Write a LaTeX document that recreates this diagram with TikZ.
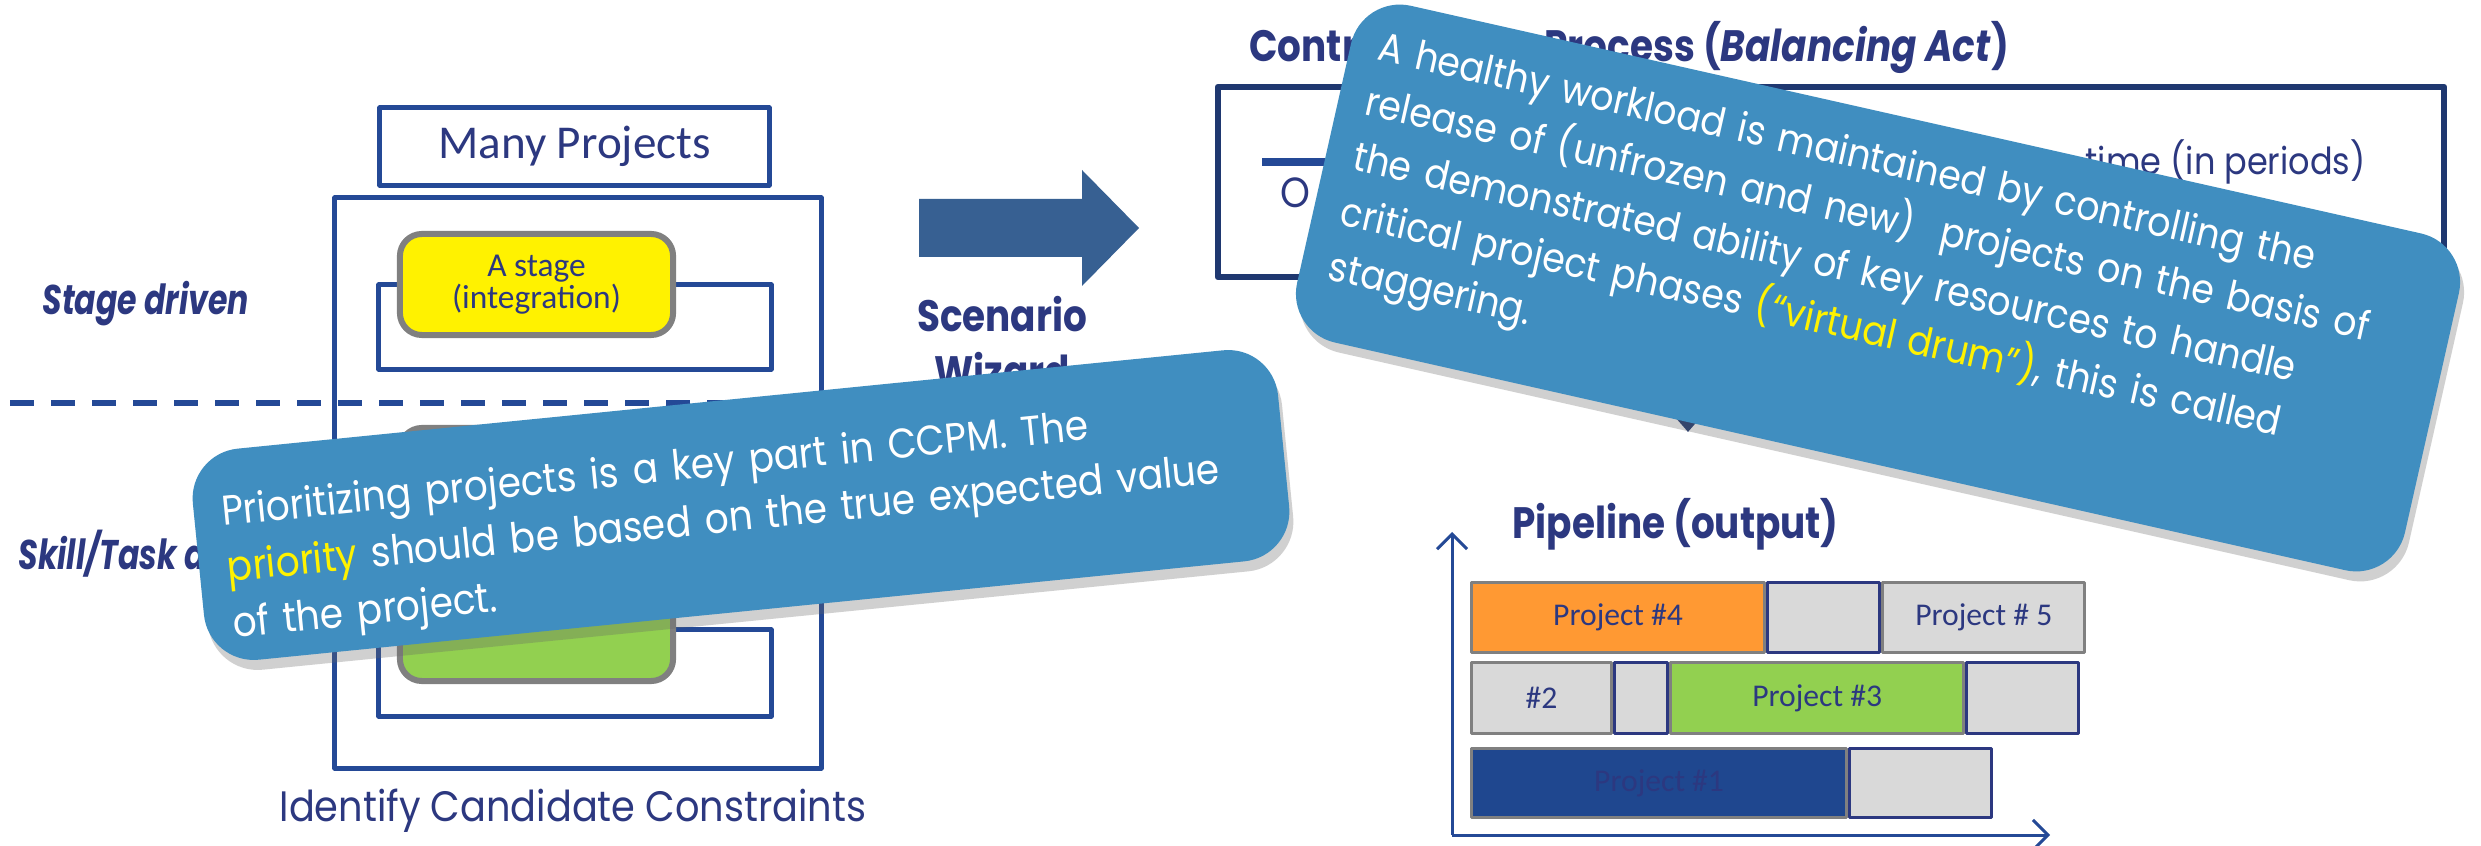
\documentclass[tikz,border=0pt]{standalone}
\usepackage{fontspec}
\setmainfont{Carlito}
\newfontfamily\gothfont[FakeStretch=0.9]{Poppins}
\newfontfamily\gothcond[FakeStretch=0.85]{Poppins}
\newfontfamily\gothcondi[FakeStretch=0.76]{Poppins}
\usetikzlibrary{shadows,arrows.meta}
\definecolor{boxblue}{RGB}{36,73,150}
\definecolor{navy}{RGB}{44,56,128}
\definecolor{ctrlnavy}{RGB}{31,56,112}
\definecolor{arrowblue}{RGB}{55,96,146}
\definecolor{calloutblue}{RGB}{64,142,192}
\definecolor{stagegray}{RGB}{128,128,128}
\definecolor{barorange}{RGB}{255,153,51}
\definecolor{bargreen}{RGB}{146,208,80}
\definecolor{bargray}{RGB}{217,217,217}
\definecolor{barblue}{RGB}{31,71,143}
\begin{document}
\begin{tikzpicture}[x=0.01cm, y=-0.01cm, line join=round, >=stealth]
	\tikzset{bluebox/.style={draw=boxblue, line width=0.05cm, inner sep=0pt},
		stagebox/.style={draw=stagegray, line width=0.06cm, rounded corners=0.22cm, minimum width=2.73cm, minimum height=1.01cm, text=navy, align=center, inner sep=0pt, font=\fontsize{9.5}{9.1}\selectfont},
		bar/.style={draw=stagegray, line width=0.03cm, anchor=west, text=navy, inner sep=0pt, font=\fontsize{9}{10}\selectfont},
		gapbar/.style={bar, draw=navy, fill=bargray},
		callout/.style={fill=calloutblue, rounded corners=0.5cm, text=white, align=left, inner ysep=0pt, font=\gothfont\fontsize{11.85}{16}\selectfont, drop shadow={shadow xshift=0.04cm, shadow yshift=-0.1cm, opacity=0.3, fill=black!60}},
		heading/.style={text=navy, font=\gothcond\bfseries\fontsize{12.5}{16.2}\selectfont},
		sidelabel/.style={text=navy, anchor=base west, font=\gothcondi\bfseries\itshape\fontsize{11.8}{16}\selectfont},
		plain/.style={text=navy, font=\gothfont\fontsize{12.1}{14}\selectfont}}
	\useasboundingbox (0,0) rectangle (2481,846);
	\fill[white] (0,0) rectangle (2481,846);
	\node[bluebox, minimum width=3.89cm, minimum height=0.77cm, text=navy, font=\fontsize{13.4}{15}\selectfont] (many) at (574.5,146.5) {Many Projects};
	\node[bluebox, minimum width=4.86cm, minimum height=5.70cm] (outer) at (578,483) {};
	\node[bluebox, minimum width=3.92cm, minimum height=0.84cm] (row1) at (575,327) {};
	\node[bluebox, minimum width=3.92cm, minimum height=0.84cm] (row2) at (575,521) {};
	\node[bluebox, minimum width=3.92cm, minimum height=0.86cm] (row3) at (575,673) {};
	\node[stagebox, fill=yellow] (stage1) at (536.5,284.5) {A stage\\(integration)};
	\node[stagebox, fill=barorange] (stage2) at (536.5,478.5) {};
	\node[stagebox, fill=bargreen] (stage3) at (536.5,630.5) {};
	\draw[boxblue, line width=0.06cm, dash pattern=on 0.24cm off 0.17cm] (10,403) -- (900,403);
	\node[sidelabel] (stagedrv) at (30,315) {Stage driven};
	\node[sidelabel] (skilldrv) at (6,570) {Skill/Task driven};
	\node[plain, anchor=base] (identify) at (573,821) {Identify Candidate Constraints};
	\fill[arrowblue] (919,199) -- (1082,199) -- (1082,170) -- (1139,228) -- (1082,286) -- (1082,257) -- (919,257) -- cycle;
	\node[heading, align=center, anchor=base] (wizard) at (1002,388) {Scenario\\Wizard};
	\node[heading, anchor=base west] (ctrltitle) at (1237,62) {Controlling the Process (\textit{Balancing Act})};
	\node[draw=ctrlnavy, line width=0.06cm, minimum width=12.26cm, minimum height=1.9cm] (ctrl) at (1831,182) {};
	\draw[boxblue, line width=0.08cm] (1262,162) -- (1420,162);
	\node[plain, anchor=base west, font=\gothfont\fontsize{12}{14}\selectfont] (onode) at (1268,208) {O};
	\node[plain, anchor=base east, font=\gothfont\fontsize{10.6}{14}\selectfont] (periods) at (2378,175) {time (in periods)};
	\coordinate (drumtip) at (1688,432);
	\draw[-{Triangle[length=0.25cm,width=0.42cm]}, line width=0.1cm, ctrlnavy] (ctrl.south -| drumtip) -- (drumtip);
	\node[heading, anchor=base west] (pipetitle) at (1500,538) {Pipeline (output)};
	\coordinate (origin) at (1452,835);
	\coordinate (ytop) at (1452,532);
	\coordinate (xend) at (2050,835);
	\draw[boxblue, line width=0.03cm, -{Straight Barb[length=0.15cm,width=0.3cm]}] (origin) -- (ytop);
	\draw[boxblue, line width=0.03cm, -{Straight Barb[length=0.15cm,width=0.3cm]}] (origin) -- (xend);
	\node[bar, fill=barorange, minimum width=2.93cm, minimum height=0.69cm] (p4) at (1470,617.5) {Project \#4};
	\node[gapbar, minimum width=1.12cm, minimum height=0.69cm] (gap4) at (p4.east) {};
	\node[bar, fill=bargray, minimum width=2.02cm, minimum height=0.69cm] (p5) at (gap4.east) {Project \# 5};
	\node[bar, fill=bargray, minimum width=1.40cm, minimum height=0.70cm] (p2) at (1470,698) {\#2};
	\node[gapbar, minimum width=0.53cm, minimum height=0.70cm] (gap2) at (p2.east) {};
	\node[bar, fill=bargreen, minimum width=2.93cm, minimum height=0.70cm] (p3) at (gap2.east) {Project \#3};
	\node[gapbar, minimum width=1.12cm, minimum height=0.70cm] (gap3) at (p3.east) {};
	\node[bar, fill=barblue, minimum width=3.75cm, minimum height=0.68cm] (p1) at (1470,783) {Project \#1};
	\node[gapbar, minimum width=1.42cm, minimum height=0.68cm] (gap1) at (p1.east) {};
	\node[callout, rotate=-12.7, minimum width=11.35cm, minimum height=3.45cm, text width=10.79cm, inner xsep=0.28cm, font=\gothfont\fontsize{11.5}{16}\selectfont] (drum) at (1878,288) {A healthy workload is maintained by controlling the\\ release of (unfrozen and new)\ \ projects on the basis of\\ the demonstrated ability of key resources to handle\\ critical project phases \textcolor{yellow}{(“virtual drum”)}, this is called\\ staggering.\rule[-0.3cm]{0pt}{0.1cm}};
	\node[callout, rotate=5.7, minimum width=10.9cm, minimum height=2.12cm, text width=10.34cm, inner xsep=0.28cm] (prio) at (741,505) {\rule{0pt}{0.62cm}Prioritizing projects is a key part in CCPM. The\\ \textcolor{yellow}{priority} should be based on the true expected value\\ of the project.};
\end{tikzpicture}
\end{document}
